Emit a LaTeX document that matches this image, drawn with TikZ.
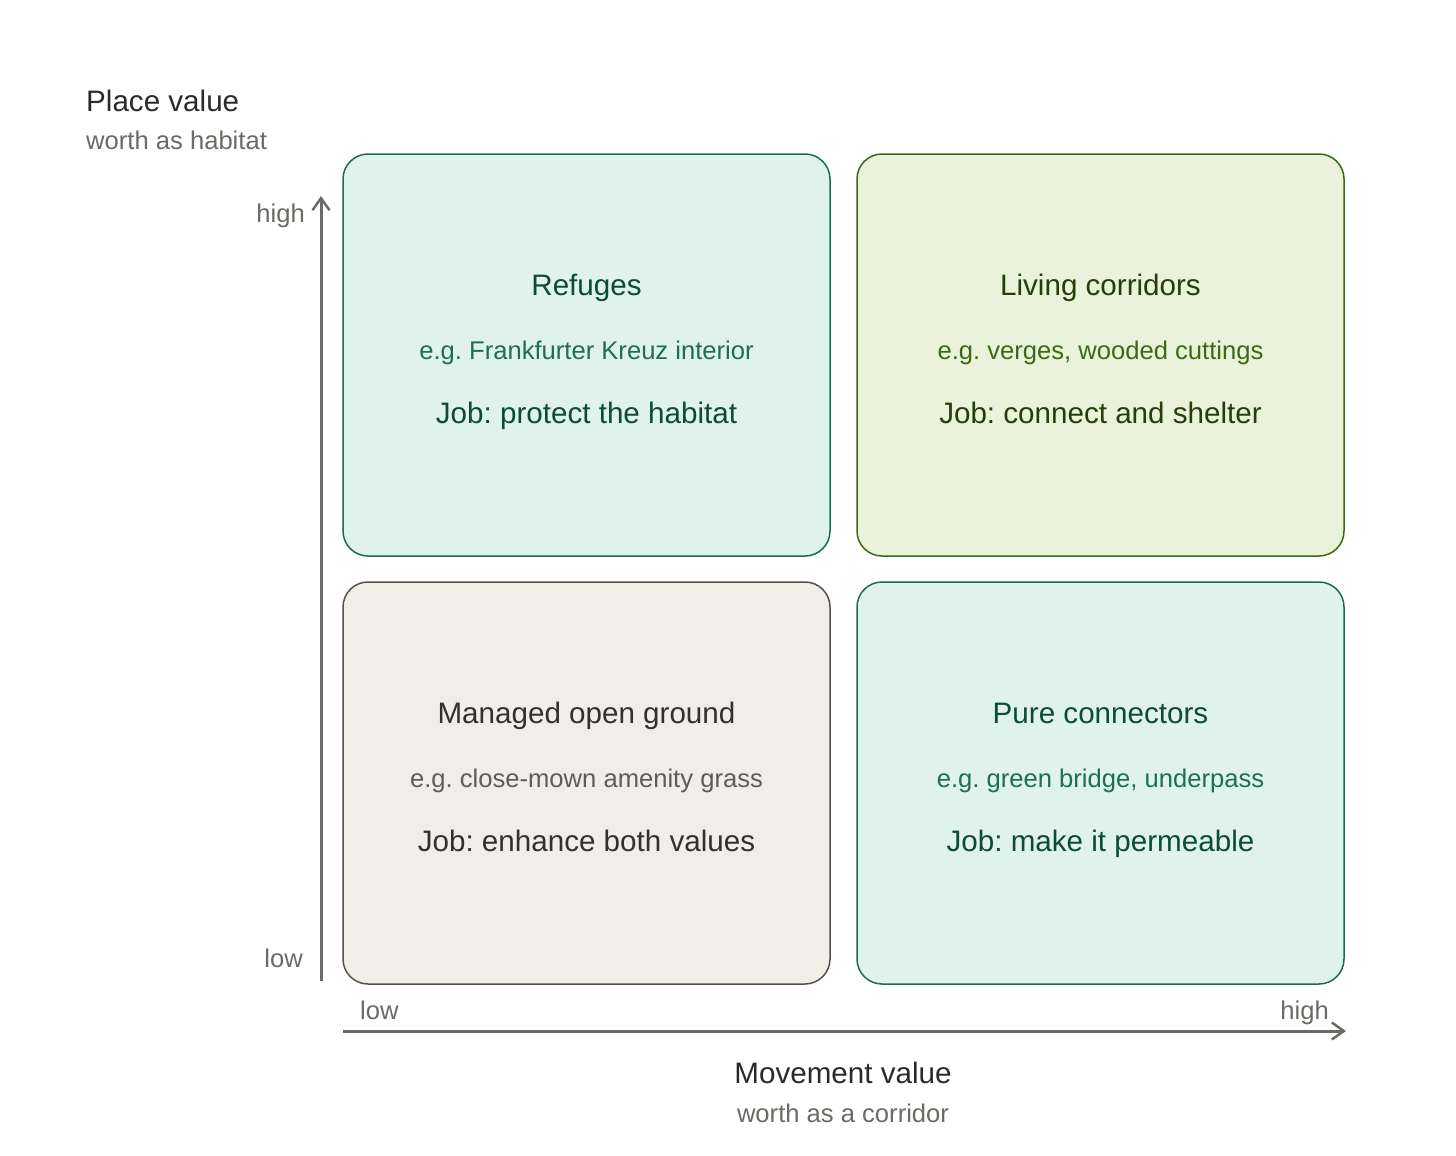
\documentclass[tikz,border=0pt]{standalone}
\usepackage{fontspec}
\setmainfont{Liberation Sans}
\usetikzlibrary{arrows.meta}
\frenchspacing
\definecolor{tealfill}{HTML}{E0F2EC}
\definecolor{tealline}{HTML}{1B6B4C}
\definecolor{tealtitle}{HTML}{0E4A38}
\definecolor{tealsub}{HTML}{1F6E52}
\definecolor{olivefill}{HTML}{EAF2DC}
\definecolor{oliveline}{HTML}{3B6A12}
\definecolor{olivetitle}{HTML}{233F0C}
\definecolor{olivesub}{HTML}{3B6A12}
\definecolor{sandfill}{HTML}{F1EEE7}
\definecolor{sandline}{HTML}{55524C}
\definecolor{sandtitle}{HTML}{33312D}
\definecolor{sandsub}{HTML}{5F5C56}
\definecolor{axisgray}{HTML}{6B6A65}
\definecolor{headtext}{HTML}{2B2A27}
\tikzset{
  quad/.style={draw, line width=1.5pt, rounded corners=25pt},
  bigtxt/.style={font=\fontsize{29.6}{34}\selectfont, anchor=base, inner sep=0pt},
  smalltxt/.style={font=\fontsize{25.6}{30}\selectfont, anchor=base, inner sep=0pt},
  axisline/.style={draw=axisgray, line width=3pt, -{Straight Barb[length=12pt,width=17pt,line width=2.5pt]}},
}
\begin{document}
\begin{tikzpicture}[x=1pt,y=-1pt]
\useasboundingbox (0,0) rectangle (1456,1156);
% boxes
\path[quad, fill=tealfill, draw=tealline] (343,154) rectangle (830,556);
\path[quad, fill=olivefill, draw=oliveline] (857,154) rectangle (1344,556);
\path[quad, fill=sandfill, draw=sandline] (343,582) rectangle (830,984);
\path[quad, fill=tealfill, draw=tealline] (857,582) rectangle (1344,984);
% texts
\node[bigtxt, text=tealtitle] (t1) at (586.5,295) {Refuges};
\node[smalltxt, text=tealsub] (e1) at (586.5,359) {e.g. Frankfurter Kreuz interior};
\node[bigtxt, text=tealtitle] (j1) at (586.5,423) {Job: protect the habitat};
\node[bigtxt, text=olivetitle] (t2) at (1100.5,295) {Living corridors};
\node[smalltxt, text=olivesub] (e2) at (1100.5,359) {e.g. verges, wooded cuttings};
\node[bigtxt, text=olivetitle] (j2) at (1100.5,423) {Job: connect and shelter};
\node[bigtxt, text=sandtitle] (t3) at (586.5,723) {Managed open ground};
\node[smalltxt, text=sandsub] (e3) at (586.5,787) {e.g. close-mown amenity grass};
\node[bigtxt, text=sandtitle] (j3) at (586.5,851) {Job: enhance both values};
\node[bigtxt, text=tealtitle] (t4) at (1100.5,723) {Pure connectors};
\node[smalltxt, text=tealsub] (e4) at (1100.5,787) {e.g. green bridge, underpass};
\node[bigtxt, text=tealtitle] (j4) at (1100.5,851) {Job: make it permeable};
% axes
\coordinate (vb) at (321,981);
\coordinate (vt) at (321,196);
\coordinate (hl) at (343,1031);
\coordinate (hr) at (1346,1031);
\draw[axisline] (vb) -- (vt);
\draw[axisline] (hl) -- (hr);
\node[smalltxt, anchor=base east, text=axisgray] (vh) at (305,222) {high};
\node[smalltxt, anchor=base east, text=axisgray] (vl) at (303,967) {low};
\node[smalltxt, anchor=base west, text=axisgray] (hlo) at (360,1019) {low};
\node[smalltxt, anchor=base east, text=axisgray] (hhi) at (1329,1019) {high};
% axis titles
\node[bigtxt, anchor=base west, text=headtext] (pv) at (86,111) {Place value};
\node[smalltxt, anchor=base west, text=axisgray] (pvs) at (86,149) {worth as habitat};
\node[bigtxt, text=headtext] (mv) at (843,1083) {Movement value};
\node[smalltxt, text=axisgray] (mvs) at (843,1122) {worth as a corridor};
\end{tikzpicture}
\end{document}
